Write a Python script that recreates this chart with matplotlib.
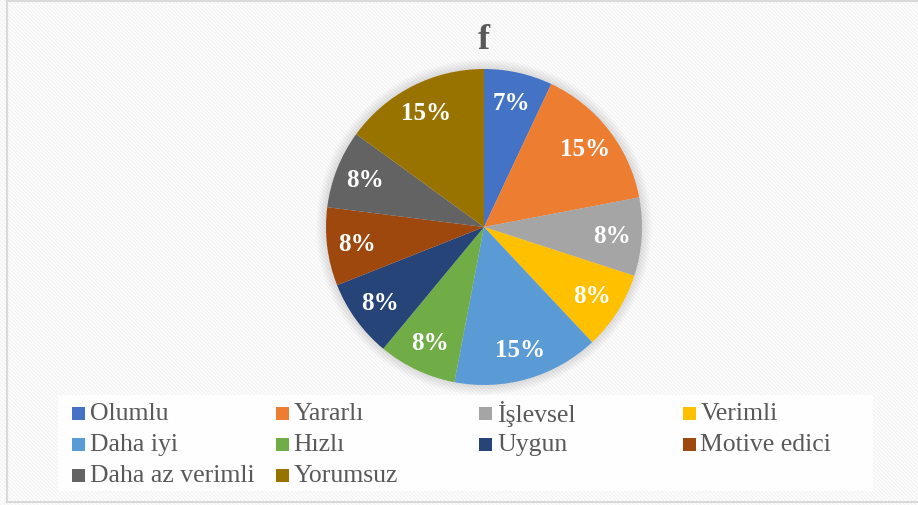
import matplotlib.pyplot as plt
from matplotlib.patches import Rectangle, Circle

categories = ['Olumlu', 'Yararlı', 'İşlevsel', 'Verimli', 'Daha iyi', 'Hızlı',
              'Uygun', 'Motive edici', 'Daha az verimli', 'Yorumsuz']
values = [7, 15, 8, 8, 15, 8, 8, 8, 8, 15]
colors = ['#4472C4', '#ED7D31', '#A5A5A5', '#FFC000', '#5B9BD5', '#70AD47',
          '#264478', '#9E480E', '#636363', '#997300']
title = 'f'

W, H = 918, 506
plt.rcParams['hatch.linewidth'] = 1.0
fig = plt.figure(figsize=(W / 100, H / 100), dpi=100)
ax = fig.add_axes([0, 0, 1, 1])
ax.set_xlim(0, W)
ax.set_ylim(0, H)
ax.axis('off')

# background with faint diagonal texture
ax.add_patch(Rectangle((0, 0), W, H, facecolor='white', edgecolor='#f3f3f3',
                       hatch='\\' * 9, linewidth=0, zorder=0))
# frame lines
ax.plot([6.5, 6.5], [H - 1, H - 503], color='#d9d9d9', lw=1.5, zorder=1)
ax.plot([6.5, W], [H - 1.5, H - 1.5], color='#d9d9d9', lw=1.5, zorder=1)
ax.plot([6.5, W], [H - 503, H - 503], color='#d9d9d9', lw=1.5, zorder=1)

cx, cy, R = 484, H - 228, 158
# soft glow around pie
for k in range(10, 0, -1):
    ax.add_patch(Circle((cx, cy), R + k, facecolor='#000000', alpha=0.012,
                        linewidth=0, zorder=1))

ax.pie(values, colors=colors, startangle=90, counterclock=False,
       center=(cx, cy), radius=R, frame=True,
       autopct=lambda p: f'{p:.0f}%', pctdistance=0.81,
       wedgeprops=dict(linewidth=0, zorder=2),
       textprops=dict(color='white', fontsize=18, fontweight='bold',
                      family='Liberation Serif', zorder=3))
ax.set_xlim(0, W)
ax.set_ylim(0, H)
ax.axis('off')

ax.text(cx, H - 40, title, ha='center', va='center', fontsize=26,
        fontweight='bold', color='#595959', family='Liberation Serif')

# legend
ax.add_patch(Rectangle((58, H - 492), 815, 96, facecolor='white',
                       edgecolor='none', alpha=0.9, zorder=1))
for i, (name, col) in enumerate(zip(categories, colors)):
    r, c = divmod(i, 4)
    x0 = 72 + c * 203.5
    yc = H - (414 + r * 31)
    ax.add_patch(Rectangle((x0, yc - 6.5), 13, 13, facecolor=col,
                           linewidth=0, zorder=3))
    ax.text(x0 + 18, yc, name, ha='left', va='center', fontsize=18.5,
            color='#595959', family='Liberation Serif', zorder=3)

fig.savefig('out.png', dpi=100)
